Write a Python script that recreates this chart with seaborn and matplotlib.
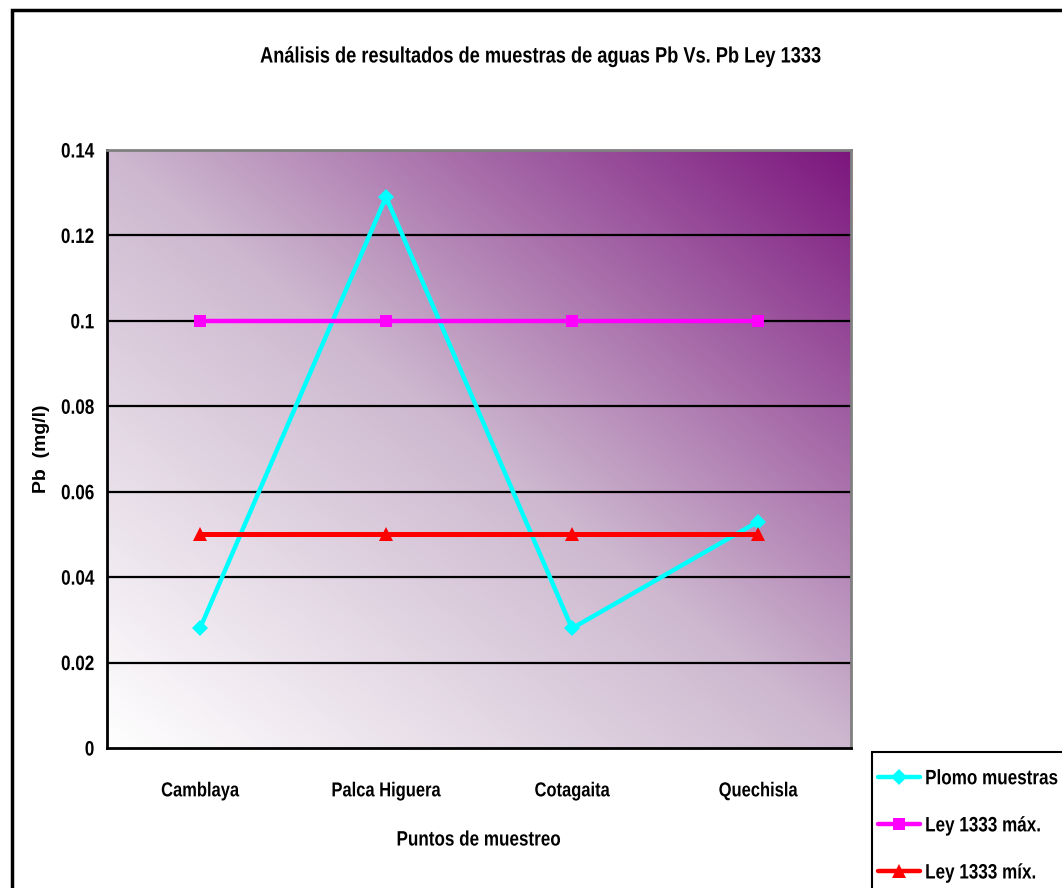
import numpy as np
import pandas as pd
import matplotlib
matplotlib.use("Agg")
import matplotlib.pyplot as plt
from matplotlib.colors import LinearSegmentedColormap
from matplotlib.patches import Rectangle
from matplotlib.lines import Line2D
from matplotlib.patheffects import AbstractPathEffect
from matplotlib.transforms import Affine2D
import seaborn as sns

# Sampling points and lead concentrations (mg/l)
puntos = ["Camblaya", "Palca Higuera", "Cotagaita", "Quechisla"]
plomo_muestras = [0.028, 0.129, 0.028, 0.053]
ley_max = [0.1, 0.1, 0.1, 0.1]
ley_min = [0.05, 0.05, 0.05, 0.05]
serie_nombres = ["Plomo muestras", "Ley 1333 máx.", "Ley 1333 míx."]
yticks = [0, 0.02, 0.04, 0.06, 0.08, 0.1, 0.12, 0.14]
ytick_labels = ["0", "0.02", "0.04", "0.06", "0.08", "0.1", "0.12", "0.14"]

df = pd.DataFrame({
    "punto": puntos * 3,
    "valor": plomo_muestras + ley_max + ley_min,
    "serie": [serie_nombres[0]] * 4 + [serie_nombres[1]] * 4 + [serie_nombres[2]] * 4,
})

sns.set_style("white")
plt.rcParams["font.family"] = ["Liberation Sans", "DejaVu Sans"]
plt.rcParams["font.weight"] = "bold"
plt.rcParams["text.color"] = "black"


class Narrow(AbstractPathEffect):
    """Draw text glyphs squeezed horizontally (a narrow-face look)."""

    def __init__(self, sx=0.82, align="center"):
        super().__init__()
        self.sx = sx
        self.align = align

    def draw_path(self, renderer, gc, tpath, affine, rgbFace=None):
        ext = tpath.get_extents()
        if self.align == "center":
            cx = (ext.x0 + ext.x1) / 2
        elif self.align == "right":
            cx = ext.x1
        else:
            cx = 0.0
        pre = Affine2D().translate(-cx, 0).scale(self.sx, 1).translate(cx, 0)
        renderer.draw_path(gc, tpath, pre + affine, rgbFace)


fig = plt.figure(figsize=(10.62, 8.88), dpi=100)
ax = fig.add_axes([107 / 1062, 1 - 748 / 888, (851 - 107) / 1062, (748 - 150) / 888])

# Diagonal white-to-purple background fill
cmap = LinearSegmentedColormap.from_list("fondo", ["#ffffff", "#cdb8cf", "#7c167e"])
gx, gy = np.meshgrid(np.linspace(0, 1, 400), np.linspace(0, 1, 400))
grad = (gx + gy) / 2
ax.imshow(grad, cmap=cmap, extent=[0, 1, 0, 1], origin="lower",
          transform=ax.transAxes, aspect="auto", zorder=0, interpolation="bilinear")

palette = {serie_nombres[0]: "#00ffff", serie_nombres[1]: "#ff00ff", serie_nombres[2]: "#ff0000"}
markers = {serie_nombres[0]: "D", serie_nombres[1]: "s", serie_nombres[2]: "^"}
msizes = {serie_nombres[0]: 8, serie_nombres[1]: 8, serie_nombres[2]: 10}
sns.lineplot(data=df, x="punto", y="valor", hue="serie", style="serie",
             palette=palette, markers=markers, dashes=False, linewidth=3.2,
             markersize=8, markeredgewidth=0, sort=False, ax=ax, legend=False, zorder=3)
for ln in ax.lines:
    if ln.get_marker() == "^":
        ln.set_markersize(10)
        ln.set_linewidth(3.6)

ax.set_xlim(-0.5, 3.5)
ax.set_ylim(0, 0.14)
ax.set_yticks(yticks)
ax.set_yticklabels(ytick_labels)
ax.set_xticks(range(len(puntos)))
ax.set_xticklabels(puntos)
ax.set_xticks(np.arange(-0.5, 3.6, 1.0), minor=True)
ax.tick_params(axis="x", which="major", length=0, pad=24, labelsize=14.5, labelcolor="black")
ax.tick_params(axis="x", which="minor", length=6, width=1.5, color="black", direction="out")
ax.tick_params(axis="y", which="major", length=5, width=1.5, color="black",
               direction="out", pad=4, labelsize=15, labelcolor="black")
for lab in ax.get_xticklabels():
    lab.set_fontweight("bold")
    lab.set_path_effects([Narrow(align="center")])
for lab in ax.get_yticklabels():
    lab.set_fontweight("bold")
    lab.set_path_effects([Narrow(align="right")])

ax.grid(False)
for yv in yticks[1:-1]:
    ax.axhline(yv, color="black", linewidth=1.6, zorder=1)

for side in ["left", "bottom"]:
    ax.spines[side].set_color("black")
    ax.spines[side].set_linewidth(2)
for side in ["top", "right"]:
    ax.spines[side].set_color("#808080")
    ax.spines[side].set_linewidth(2)

ax.set_xlabel("Puntos de muestreo", fontsize=15, fontweight="bold", color="black")
ax.xaxis.set_label_coords(0.5, -(840 - 748) / (748 - 150))
ax.xaxis.label.set_va("center")
ax.xaxis.label.set_path_effects([Narrow(align="center")])
ax.set_ylabel("Pb  (mg/l)", fontsize=14, fontweight="bold", color="black")
ax.yaxis.set_label_coords(-(107 - 42) / (851 - 107), 0.5)
ax.yaxis.label.set_va("center")

fig.text(540 / 1062, 1 - 57 / 888, "Análisis de resultados de muestras de aguas Pb Vs. Pb Ley 1333",
         ha="center", va="center", fontsize=16, fontweight="bold", color="black",
         path_effects=[Narrow(align="center")])

# Outer chart frame (runs past the right and bottom edges)
fig.patches.append(Rectangle((12 / 1062, -0.05), 1.1, 1 - 10 / 888 + 0.05,
                             transform=fig.transFigure, fill=False,
                             edgecolor="black", linewidth=2.5))

# Legend box frame (runs past the right and bottom edges)
fig.patches.append(Rectangle((872 / 1062, -0.05), 0.2, 1 - 752 / 888 + 0.05,
                             transform=fig.transFigure, fill=False,
                             edgecolor="black", linewidth=1.5))

handles = [Line2D([], [], color=palette[s], marker=markers[s], linewidth=3.2,
                  markersize=msizes[s], markeredgewidth=0)
           for s in serie_nombres]
leg = fig.legend(handles, serie_nombres, loc="upper left",
                 bbox_to_anchor=(872 / 1062, 1 - 763 / 888), frameon=False,
                 handlelength=2.0, prop={"size": 15, "weight": "bold"},
                 labelspacing=1.35, borderpad=0.3, handletextpad=0.25,
                 borderaxespad=0)
for t in leg.get_texts():
    t.set_path_effects([Narrow(align="left")])

fig.savefig("out.png", dpi=100)
